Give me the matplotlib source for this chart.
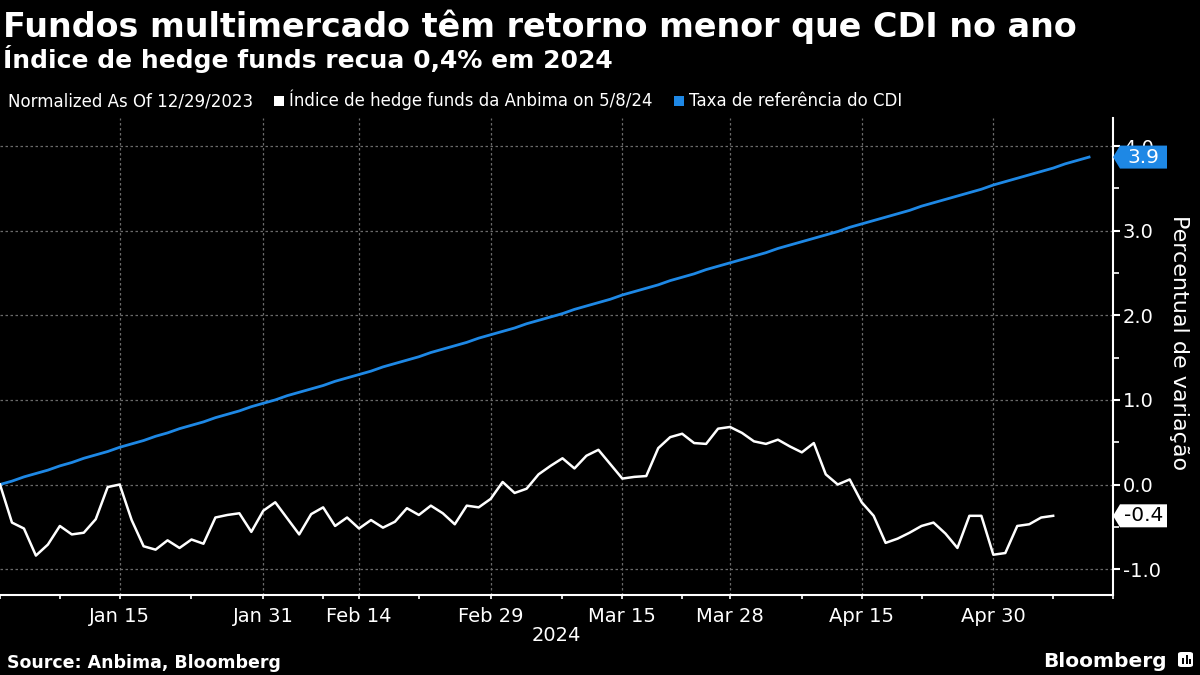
import matplotlib
matplotlib.use('Agg')
import matplotlib.pyplot as plt
import numpy as np
import pandas as pd
from matplotlib.patches import Polygon, FancyBboxPatch, Rectangle

# ---------------- data ----------------
holidays = ['2024-01-01', '2024-02-12', '2024-02-13', '2024-03-29', '2024-05-01']
start_date, end_date = '2023-12-29', '2024-05-15'

hedge_funds = [0.00, -0.45, -0.52, -0.84, -0.71, -0.49, -0.59, -0.57, -0.41, -0.03,
               0.00, -0.42, -0.73, -0.77, -0.66, -0.75, -0.65, -0.70, -0.39, -0.36,
               -0.34, -0.56, -0.31, -0.21, -0.40, -0.59, -0.35, -0.27, -0.49, -0.39,
               -0.52, -0.42, -0.51, -0.44, -0.28, -0.36, -0.25, -0.34, -0.47, -0.25,
               -0.27, -0.17, 0.03, -0.10, -0.05, 0.12, 0.22, 0.31, 0.19, 0.34,
               0.41, 0.24, 0.07, 0.09, 0.10, 0.43, 0.56, 0.60, 0.49, 0.48,
               0.66, 0.68, 0.61, 0.51, 0.48, 0.53, 0.45, 0.38, 0.49, 0.12,
               0.00, 0.06, -0.21, -0.37, -0.69, -0.64, -0.57, -0.49, -0.45, -0.58,
               -0.75, -0.37, -0.37, -0.83, -0.81, -0.49, -0.47, -0.39, -0.37]

cdi = [0.00, 0.04, 0.09, 0.13, 0.17, 0.22, 0.26, 0.31, 0.35, 0.39,
       0.44, 0.48, 0.52, 0.57, 0.61, 0.66, 0.70, 0.74, 0.79, 0.83,
       0.87, 0.92, 0.96, 1.00, 1.05, 1.09, 1.13, 1.17, 1.22, 1.26,
       1.30, 1.34, 1.39, 1.43, 1.47, 1.51, 1.56, 1.60, 1.64, 1.68,
       1.73, 1.77, 1.81, 1.85, 1.90, 1.94, 1.98, 2.02, 2.07, 2.11,
       2.15, 2.19, 2.24, 2.28, 2.32, 2.36, 2.41, 2.45, 2.49, 2.54,
       2.58, 2.62, 2.66, 2.70, 2.74, 2.79, 2.83, 2.87, 2.91, 2.95,
       2.99, 3.04, 3.08, 3.12, 3.16, 3.20, 3.24, 3.29, 3.33, 3.37,
       3.41, 3.45, 3.49, 3.54, 3.58, 3.62, 3.66, 3.70, 3.74, 3.79,
       3.83, 3.87]

major_dates = ['2024-01-15', '2024-01-31', '2024-02-14', '2024-02-29',
               '2024-03-15', '2024-03-28', '2024-04-15', '2024-04-30']
major_labels = ['Jan 15', 'Jan 31', 'Feb 14', 'Feb 29',
                'Mar 15', 'Mar 28', 'Apr 15', 'Apr 30']
minor_dates = ['2023-12-29', '2024-01-08', '2024-01-23', '2024-02-07', '2024-02-21',
               '2024-03-08', '2024-03-22', '2024-04-08', '2024-04-22', '2024-05-08',
               '2024-05-15']
y_ticks = [-1.0, 0.0, 1.0, 2.0, 3.0, 4.0]
y_minor = [-0.5, 0.5, 1.5, 2.5, 3.5]

hf_label = '-0.4'
cdi_label = '3.9'

# ---------------- trading-day axis ----------------
days = pd.bdate_range(start_date, end_date)
days = days[~days.isin(pd.to_datetime(holidays))]
pos = {d: i for i, d in enumerate(days)}
major_pos = [pos[pd.Timestamp(d)] for d in major_dates]
minor_pos = [pos[pd.Timestamp(d)] for d in minor_dates]

W, H = 1200, 675
BLUE = '#1e88e5'
GRID = '#6a6a6a'

fig = plt.figure(figsize=(12, 6.75), dpi=100, facecolor='black')


def fx(px):
    return px / W


def fy(py):
    return 1 - py / H


ax = fig.add_axes([0.0, fy(595), fx(1113), fy(118) - fy(595)])
ax.set_facecolor('black')

x_hf = np.arange(len(hedge_funds))
x_cdi = np.arange(len(cdi))
ax.plot(x_cdi, cdi, color=BLUE, lw=2.0, solid_joinstyle='round', zorder=3)
ax.plot(x_hf, hedge_funds, color='white', lw=1.8, solid_joinstyle='round', zorder=4)

ax.set_xlim(0, len(days) - 1)
ax.set_ylim(-1.306, 4.332)

ax.set_xticks(major_pos)
ax.set_xticklabels(major_labels)
ax.set_xticks(minor_pos, minor=True)
ax.set_yticks(y_ticks)
ax.set_yticklabels([f'{v:.1f}' for v in y_ticks])
ax.set_yticks(y_minor, minor=True)

ax.yaxis.tick_right()
ax.yaxis.set_label_position('right')
ax.tick_params(axis='x', which='both', colors='white', length=3, width=1.2,
               labelsize=14, pad=6, direction='out')
ax.tick_params(axis='y', which='major', colors='white', length=5, width=1.5,
               labelsize=14, pad=2, direction='out')
ax.tick_params(axis='y', which='minor', colors='white', length=4, width=1.2, direction='out')

ax.grid(True, which='major', color=GRID, linestyle=(0, (2, 2)), linewidth=0.9)
ax.set_axisbelow(True)
for s in ['left', 'top']:
    ax.spines[s].set_visible(False)
for s in ['bottom', 'right']:
    ax.spines[s].set_color('white')
    ax.spines[s].set_linewidth(1.5)

ax.set_ylabel('Percentual de variação', color='white', fontsize=16,
              rotation=270, labelpad=22)
ax.yaxis.set_label_coords(1.068, 0.53)

# value tags on the right axis
ytr = ax.get_yaxis_transform()
half_h = 11.5 / 84.6
tip = 7 / 1113
wid = 54 / 1113


def tag(v, text, face, tcolor):
    poly = Polygon([(1.0, v), (1.0 + tip, v + half_h), (1.0 + wid, v + half_h),
                    (1.0 + wid, v - half_h), (1.0 + tip, v - half_h)],
                   closed=True, transform=ytr, facecolor=face, edgecolor='none',
                   clip_on=False, zorder=10)
    ax.add_patch(poly)
    ax.text(1.0 + tip + (wid - tip) / 2, v, text, transform=ytr, color=tcolor,
            fontsize=14.5, ha='center', va='center', clip_on=False, zorder=11)


tag(cdi[-1], cdi_label, BLUE, 'white')
tag(hedge_funds[-1], hf_label, 'white', 'black')

# ---------------- texts ----------------
fig.text(fx(3), fy(37), 'Fundos multimercado têm retorno menor que CDI no ano',
         color='white', fontsize=24, fontweight='bold', va='baseline', ha='left')
fig.text(fx(3), fy(68), 'Índice de hedge funds recua 0,4% em 2024',
         color='white', fontsize=18, fontweight='bold', va='baseline', ha='left')

fig.text(fx(8), fy(106), 'Normalized As Of 12/29/2023', color='white',
         fontsize=12, va='baseline', ha='left')
fig.patches.append(Rectangle((fx(274), fy(106)), fx(10), 10 / H, transform=fig.transFigure,
                             facecolor='white', edgecolor='none'))
fig.text(fx(289), fy(106), 'Índice de hedge funds da Anbima on 5/8/24', color='white',
         fontsize=12, va='baseline', ha='left')
fig.patches.append(Rectangle((fx(674), fy(106)), fx(10), 10 / H, transform=fig.transFigure,
                             facecolor=BLUE, edgecolor='none'))
fig.text(fx(689), fy(106), 'Taxa de referência do CDI', color='white',
         fontsize=12, va='baseline', ha='left')

fig.text(fx(556), fy(641), '2024', color='white', fontsize=14, ha='center', va='baseline')

fig.text(fx(7), fy(668), 'Source: Anbima, Bloomberg', color='white', fontsize=12.5,
         fontweight='bold', va='baseline', ha='left')
fig.text(fx(1167), fy(667), 'Bloomberg', color='white', fontsize=14.5,
         fontweight='bold', va='baseline', ha='right')

# small logo icon
fig.patches.append(FancyBboxPatch((fx(1178), fy(667)), fx(15), 15 / H,
                                  boxstyle='round,pad=0,rounding_size=0.003',
                                  transform=fig.transFigure, facecolor='white',
                                  edgecolor='none'))
for bx, bh in [(1182, 6), (1185.5, 9), (1189, 5)]:
    fig.patches.append(Rectangle((fx(bx), fy(664)), fx(2), bh / H,
                                 transform=fig.transFigure, facecolor='black',
                                 edgecolor='none'))

fig.savefig('out.png', dpi=100, facecolor='black')
